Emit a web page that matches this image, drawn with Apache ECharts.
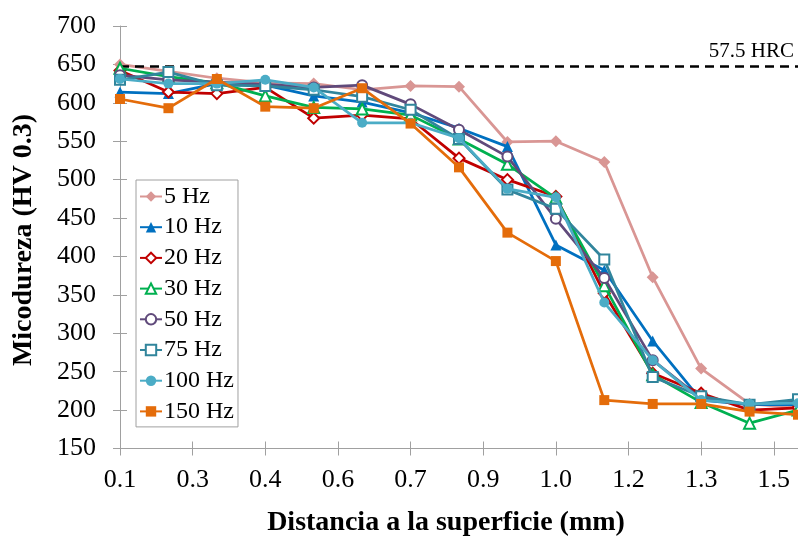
<!DOCTYPE html>
<html>
<head>
<meta charset="utf-8">
<script src="https://cdn.jsdelivr.net/npm/echarts@6/dist/echarts.min.js"></script>
<style>
  html, body { margin: 0; padding: 0; background: #fff; }
  #chart { width: 798px; height: 539px; }
</style>
</head>
<body>
<div id="chart"></div>
<script>
// Distance from the surface (mm) at which each indentation was made
const distances = [0.1, 0.2, 0.3, 0.4, 0.5, 0.6, 0.7, 0.8, 0.9, 1.0, 1.1, 1.2, 1.3, 1.4, 1.5];

// Microhardness HV 0.3 for each frequency
const hv5   = [650, 641, 632, 626, 625, 617, 622, 621, 549, 550, 523, 373, 254, 208, 203];
const hv10  = [614, 612, 625, 623, 609, 601, 587, 567, 543, 415, 382, 290, 213, 207, 207];
const hv20  = [642, 614, 612, 620, 580, 584, 579, 528, 500, 478, 352, 248, 222, 200, 203];
const hv30  = [645, 634, 626, 609, 594, 592, 584, 553, 520, 476, 362, 246, 210, 183, 200];
const hv50  = [636, 630, 627, 624, 620, 623, 598, 565, 530, 449, 372, 265, 215, 207, 211];
const hv75  = [630, 640, 623, 622, 617, 608, 591, 553, 487, 462, 396, 243, 218, 207, 214];
const hv100 = [631, 625, 625, 630, 620, 574, 574, 554, 488, 477, 340, 265, 213, 208, 209];
const hv150 = [605, 593, 631, 595, 593, 619, 573, 516, 431, 394, 213, 208, 208, 198, 194];

// Reference hardness of 57.5 HRC expressed in HV
const hrcLimit = 648;
const hrcLabel = '57.5 HRC';

// Horizontal axis ticks and their printed labels
const xTickValues = [0.1, 0.25, 0.4, 0.55, 0.7, 0.85, 1.0, 1.15, 1.3, 1.45];
const xTickLabels = ['0.1', '0.3', '0.4', '0.6', '0.7', '0.9', '1.0', '1.2', '1.3', '1.5'];

const FONT = "'Liberation Serif', 'Times New Roman', serif";
const AXIS_GRAY = '#a0a0a0';

const seriesDefs = [
  { name: '5 Hz',   values: hv5,   color: '#D99694', symbol: 'diamond',       size: 12 },
  { name: '10 Hz',  values: hv10,  color: '#0070C0', symbol: 'triangle',      size: 11 },
  { name: '20 Hz',  values: hv20,  color: '#C00000', symbol: 'emptyDiamond',  size: 11 },
  { name: '30 Hz',  values: hv30,  color: '#00B050', symbol: 'emptyTriangle', size: 11 },
  { name: '50 Hz',  values: hv50,  color: '#604A7B', symbol: 'emptyCircle',   size: 10 },
  { name: '75 Hz',  values: hv75,  color: '#31859C', symbol: 'emptyRect',     size: 10 },
  { name: '100 Hz', values: hv100, color: '#4BACC6', symbol: 'circle',        size: 10 },
  { name: '150 Hz', values: hv150, color: '#E46C0A', symbol: 'rect',          size: 10 }
];

function xLabel(value) {
  const i = Math.round((value - xTickValues[0]) / (xTickValues[1] - xTickValues[0]));
  return xTickLabels[i] !== undefined ? xTickLabels[i] : '';
}

const series = seriesDefs.map(function (d, k) {
  const s = {
    type: 'line',
    name: d.name,
    data: distances.map(function (x, i) { return [x, d.values[i]]; }),
    color: d.color,
    symbol: d.symbol,
    symbolSize: d.size,
    showAllSymbol: true,
    lineStyle: { width: 2.75, color: d.color },
    itemStyle: d.symbol.indexOf('empty') === 0 ? { borderWidth: 1.5 } : {},
    emphasis: { disabled: true },
    z: 3 + k
  };
  if (k === 0) {
    s.markLine = {
      silent: true,
      symbol: 'none',
      animation: false,
      lineStyle: { color: '#000', width: 2.5, type: [9, 6] },
      label: {
        show: true,
        position: 'insideEndTop',
        formatter: hrcLabel,
        color: '#000',
        fontFamily: FONT,
        fontSize: 21,
        distance: 4
      },
      data: [{ yAxis: hrcLimit }]
    };
  }
  return s;
});

const chart = echarts.init(document.getElementById('chart'), null, { renderer: 'canvas' });

chart.setOption({
  animation: false,
  backgroundColor: '#ffffff',
  textStyle: { fontFamily: FONT },
  grid: { left: 120, right: 0, top: 26, bottom: 90.5, containLabel: false },
  legend: {
    orient: 'vertical',
    left: 136,
    top: 180,
    data: seriesDefs.map(function (d) { return d.name; }),
    backgroundColor: '#fff',
    borderColor: AXIS_GRAY,
    borderWidth: 1,
    borderRadius: 0,
    padding: [4, 4, 3, 3],
    itemWidth: 22,
    itemHeight: 13,
    itemGap: 5.7,
    selectedMode: false,
    textStyle: { fontFamily: FONT, fontSize: 24, color: '#000', lineHeight: 25, padding: [0, 0, 0, -3] }
  },
  xAxis: [
    {
      type: 'value',
      min: 0.1,
      max: 1.5,
      axisLine: { show: true, lineStyle: { color: AXIS_GRAY, width: 1 } },
      axisTick: { show: true, length: 7, lineStyle: { color: AXIS_GRAY }, customValues: xTickValues },
      axisLabel: {
        customValues: xTickValues,
        formatter: xLabel,
        color: '#000',
        fontFamily: FONT,
        fontSize: 26,
        margin: 19
      },
      splitLine: { show: false }
    },
    {
      type: 'value',
      min: 0.1,
      max: 1.5,
      position: 'bottom',
      axisLine: { show: false },
      axisTick: { show: true, inside: true, length: 7, lineStyle: { color: AXIS_GRAY }, customValues: xTickValues },
      axisLabel: { show: false },
      splitLine: { show: false }
    }
  ],
  yAxis: [
    {
      type: 'value',
      min: 150,
      max: 700,
      interval: 50,
      axisLine: { show: true, lineStyle: { color: AXIS_GRAY, width: 1 } },
      axisTick: { show: true, length: 7, lineStyle: { color: AXIS_GRAY } },
      axisLabel: { color: '#000', fontFamily: FONT, fontSize: 26, margin: 24 },
      splitLine: { show: false }
    },
    {
      type: 'value',
      min: 150,
      max: 700,
      interval: 50,
      position: 'left',
      axisLine: { show: false },
      axisTick: { show: true, inside: true, length: 7, lineStyle: { color: AXIS_GRAY } },
      axisLabel: { show: false },
      splitLine: { show: false }
    }
  ],
  graphic: [
    {
      type: 'text',
      x: 446,
      y: 523,
      style: {
        text: 'Distancia a la superficie (mm)',
        fontFamily: FONT,
        fontWeight: 'bold',
        fontSize: 28,
        fill: '#000',
        textAlign: 'center',
        textVerticalAlign: 'middle'
      }
    },
    {
      type: 'text',
      x: 24,
      y: 240,
      rotation: Math.PI / 2,
      style: {
        text: 'Micodureza (HV 0.3)',
        fontFamily: FONT,
        fontWeight: 'bold',
        fontSize: 28,
        fill: '#000',
        textAlign: 'center',
        textVerticalAlign: 'middle'
      }
    }
  ],
  series: series
});
</script>
</body>
</html>
